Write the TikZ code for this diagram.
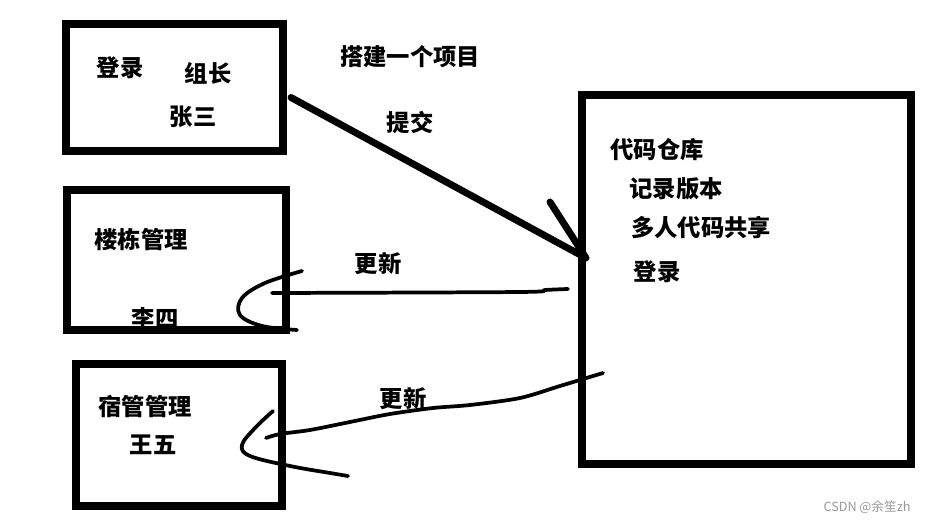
\documentclass[tikz,border=0pt]{standalone}
\usepackage{fontspec}
\usetikzlibrary{calc}
\newfontfamily\cjk{Noto Sans CJK SC}
\tikzset{
  sketchbox/.style={draw=black,line width=6pt,inner sep=0pt},
  lbl/.style={inner sep=0pt,font=\cjk\bfseries\fontsize{17.5}{19}\selectfont},
  pen/.style={line width=2.8pt,line cap=round,line join=round},
  bigpen/.style={line width=5.2pt,line cap=round,line join=round},
  wmark/.style={inner sep=0pt,text=black!40,font=\cjk\fontsize{9.5}{10}\selectfont}
}
\begin{document}
\begin{tikzpicture}[x=0.75pt,y=-0.75pt]
  \useasboundingbox (0,0) rectangle (928,523);

  % texts
  \node[lbl] (t-login) at (120,68) {登录};
  \node[lbl] (t-lead) at (208,73) {组长};
  \node[lbl] (t-zhang) at (193,117) {张三};
  \node[lbl] (t-build) at (410,57) {搭建一个项目};
  \node[lbl] (t-commit) at (410,122) {提交};
  \node[lbl] (t-building) at (141,240) {楼栋管理};
  \node[lbl] (t-li) at (155,319) {李四};
  \node[lbl] (t-dorm) at (145,407) {宿管管理};
  \node[lbl] (t-wang) at (153,445) {王五};
  \node[lbl] (t-upd1) at (378,264) {更新};
  \node[lbl] (t-upd2) at (403,399) {更新};
  \node[lbl] (t-repo) at (657,150) {代码仓库};
  \node[lbl] (t-ver) at (676,189) {记录版本};
  \node[lbl] (t-share) at (701,228) {多人代码共享};
  \node[lbl] (t-login2) at (657,272) {登录};
  \node[wmark] (t-csdn) at (867,507) {CSDN @余笙zh};

  % boxes
  \node[sketchbox,minimum width=162.75pt,minimum height=95.25pt] (lead) at (174.5,87.5) {};
  \node[sketchbox,minimum width=164.25pt,minimum height=105pt] (building) at (176.5,260) {};
  \node[sketchbox,minimum width=154.5pt,minimum height=106.5pt] (dorm) at (179,435) {};
  \node[sketchbox,minimum width=246.75pt,minimum height=276.75pt] (repo) at (746.5,279.5) {};

  % commit
  \coordinate (tip) at ($(repo.west)+(8,-21.5)$);
  \draw[bigpen] ($(lead.east)+(4,10)$) -- (tip) -- (550,202);

  % update 1
  \draw[pen] plot[smooth,tension=.5] coordinates {($(repo.west)+(-10,9.5)$) (545,290) (520,292) ($(building.east)+(-18,33)$)};
  \draw[pen] plot[smooth,tension=.6] coordinates {(302,271) (265,283) (242,298) (240,315) (262,326) (297,330)};

  % update 2
  \draw[pen] plot[smooth,tension=.5] coordinates {($(repo.west)+(25,93.5)$) (560,386) (520,398) (470,405) (433,408) (390,414) (350,422) (310,430) (280,434) ($(dorm.east)+(-20,3)$)};
  \draw[pen] plot[smooth,tension=.6] coordinates {(273,411) (255,428) (242,445) (250,456) (290,466) (330,473) (348,476)};
\end{tikzpicture}
\end{document}
